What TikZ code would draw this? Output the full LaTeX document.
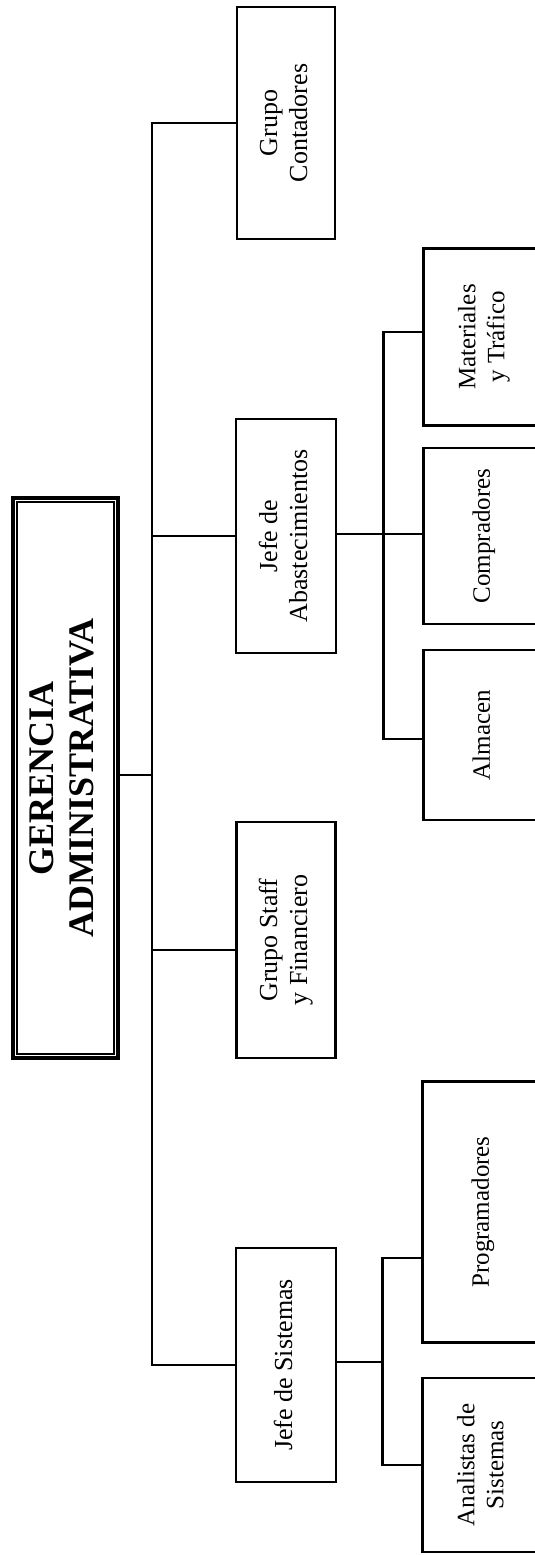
\documentclass[tikz,border=0pt]{standalone}
\usepackage{fontspec}
\setmainfont{Liberation Serif}
\usetikzlibrary{positioning}
\newcommand{\vtext}[1]{\rotatebox{90}{\begin{tabular}{@{}c@{}}#1\end{tabular}}}
\begin{document}
\begin{tikzpicture}[x=1pt,y=1pt,on grid,
    box/.style={draw,line width=2.8pt,inner sep=0pt,font=\fontsize{26}{30}\selectfont},
    sub/.style={box,minimum width=121pt,font=\fontsize{25}{29}\selectfont},
    link/.style={line width=2.8pt}]
      \useasboundingbox (0,0) rectangle (535,-1555);
      \node[draw,line width=3.8pt,minimum width=105pt,minimum height=560pt,
            font=\bfseries\fontsize{36}{40}\selectfont] (ger) at (65.5,-778)
            {\vtext{GERENCIA\\ADMINISTRATIVA}};
      \draw[line width=1.8pt] ([shift={(6,6)}]ger.south west) rectangle ([shift={(-6,-6)}]ger.north east);
      \node[box,minimum width=98pt,minimum height=232pt] (cont) at (286,-123) {\vtext{Grupo\\Contadores}};
      \node[box,minimum width=100pt,minimum height=234pt] (abast) [below=413pt of cont] {\vtext{Jefe de\\Abastecimientos}};
      \node[box,minimum width=99pt,minimum height=236pt] (staff) [below=404pt of abast] {\vtext{Grupo Staff\\y Financiero}};
      \node[box,minimum width=100pt,minimum height=234pt] (sis) [below=425pt of staff] {\vtext{Jefe de Sistemas}};
      \node[sub,minimum height=176pt] (comp) [right=198pt of abast] {\vtext{Compradores}};
      \node[sub,minimum height=177pt] (mat) [above=199pt of comp] {\vtext{Materiales\\y Tráfico}};
      \node[sub,minimum height=170pt] (alm) [below=199pt of comp] {\vtext{Almacen}};
      \node[sub,minimum height=261pt] (prog) [right=197pt of sis,yshift=153pt] {\vtext{Programadores}};
      \node[sub,minimum height=174pt] (anal) [below=253pt of prog] {\vtext{Analistas de\\Sistemas}};
      \coordinate[right=32pt of ger.east,yshift=3pt] (mjoin);
      \coordinate[right=46pt of abast.east,yshift=2pt] (ajoin);
      \coordinate[right=45pt of sis.east,yshift=3pt] (sjoin);
      \draw[link] (ger.east |- mjoin) -- (mjoin);
      \draw[link] (cont.west) -| (mjoin) |- (sis.west);
      \draw[link] (abast.west) -- (abast.west -| mjoin);
      \draw[link] ([yshift=-10pt]staff.west) -- ([yshift=-10pt]staff.west -| mjoin);
      \draw[link] (abast.east |- ajoin) -- (comp.west |- ajoin);
      \draw[link] ([yshift=5pt]mat.west) -| (ajoin) |- ([yshift=-4pt]alm.west);
      \draw[link] (sis.east |- sjoin) -- (sjoin);
      \draw[link] ([yshift=-46pt]prog.west) -| (sjoin) |- (anal.west);
    \end{tikzpicture}
\end{document}
